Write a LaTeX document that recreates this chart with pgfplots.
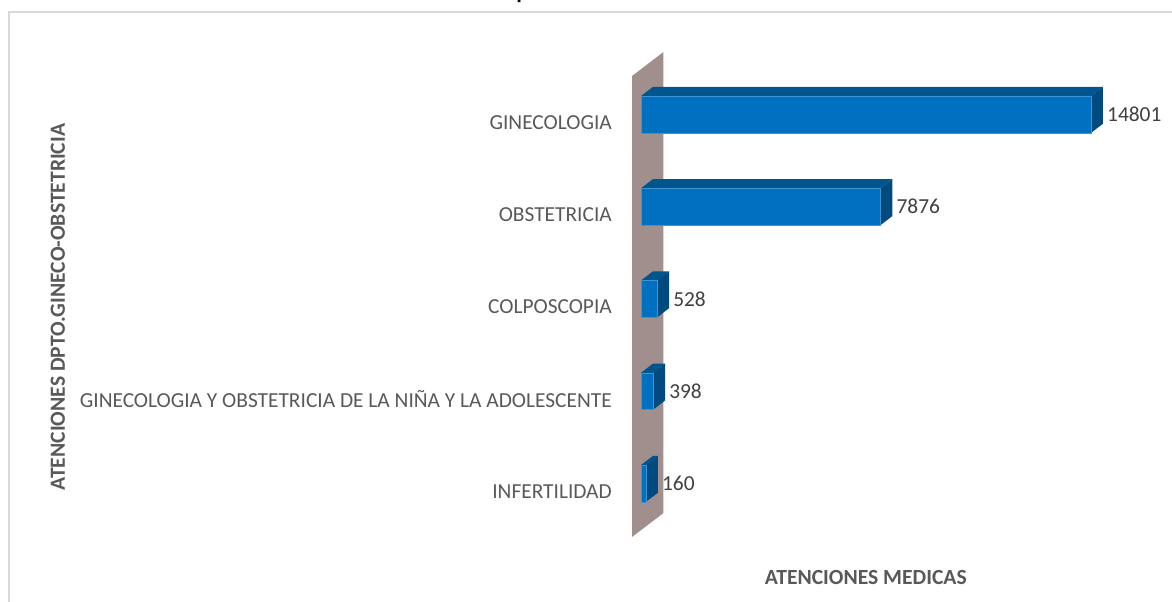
\documentclass[border=0pt]{standalone}
\usepackage{fontspec}
\setmainfont{Carlito}
\usepackage{pgfplots}
\usepackage{pgfplotstable}
\pgfplotsset{compat=1.18}

\definecolor{wall}{HTML}{A08F8C}
\definecolor{front}{HTML}{0070C0}
\definecolor{topface}{HTML}{00558F}
\definecolor{sideface}{HTML}{004A80}
\definecolor{edge}{HTML}{3F93D0}
\definecolor{frameg}{HTML}{D9D9D9}
\definecolor{txt}{HTML}{595959}
\definecolor{val}{HTML}{404040}

\pgfplotstableread{
pos value
0 160
1 398
2 528
3 7876
4 14801
}\atenciones

\begin{document}
\begin{tikzpicture}[x=1pt,y=1pt]
\useasboundingbox (0,0) rectangle (1172,602);
% chart frame, runs off the page on the right and at the bottom
\draw[frameg, line width=2pt] (9,-5) -- (9,589.5) -- (1180,589.5);
\begin{axis}[
  at={(632pt,0pt)}, anchor=south west,
  scale only axis, width=540pt, height=602pt,
  xmin=-296, xmax=17467,
  ymin=-1.2846, ymax=5.2412,
  clip=false,
  axis line style={draw=none},
  major tick length=0pt,
  xtick=\empty,
  ytick={0,1,2,3,4},
  yticklabels={INFERTILIDAD,GINECOLOGIA Y OBSTETRICIA DE LA NIÑA Y LA ADOLESCENTE,COLPOSCOPIA,OBSTETRICIA,GINECOLOGIA},
  yticklabel style={font=\fontsize{21.4}{25}\selectfont, text=txt, anchor=east, inner sep=0pt, xshift=-20pt, yshift=-8pt},
  xlabel={\textbf{ATENCIONES MEDICAS}},
  xlabel style={at={(axis description cs:0.433,0.0415)}, anchor=center, font=\fontsize{21.6}{25}\selectfont, text=txt},
  ylabel={\textbf{ATENCIONES DPTO.GINECO-OBSTETRICIA}},
  ylabel style={at={(axis description cs:-1.063,0.49)}, anchor=center, rotate=0, font=\fontsize{21.6}{25}\selectfont, text=txt},
]
% wall
\addplot[fill=wall, draw=none] coordinates {(-296,4.417) (740,4.678) (740,-0.320) (-296,-0.580)} -- cycle;

% top faces
\addplot[fill=topface, draw=none] coordinates {(0,4.2) (14801,4.2) (15196,4.3) (395,4.3)} -- cycle;
\addplot[fill=topface, draw=none] coordinates {(0,3.2) (7876,3.2) (8271,3.3) (395,3.3)} -- cycle;
\addplot[fill=topface, draw=none] coordinates {(0,2.2) (528,2.2) (923,2.3) (395,2.3)} -- cycle;
\addplot[fill=topface, draw=none] coordinates {(0,1.2) (398,1.2) (793,1.3) (395,1.3)} -- cycle;
\addplot[fill=topface, draw=none] coordinates {(0,0.2) (160,0.2) (555,0.3) (395,0.3)} -- cycle;

% side faces
\addplot[fill=sideface, draw=none] coordinates {(14801,4.2) (15196,4.3) (15196,3.9) (14801,3.8)} -- cycle;
\addplot[fill=sideface, draw=none] coordinates {(7876,3.2) (8271,3.3) (8271,2.9) (7876,2.8)} -- cycle;
\addplot[fill=sideface, draw=none] coordinates {(528,2.2) (923,2.3) (923,1.9) (528,1.8)} -- cycle;
\addplot[fill=sideface, draw=none] coordinates {(398,1.2) (793,1.3) (793,0.9) (398,0.8)} -- cycle;
\addplot[fill=sideface, draw=none] coordinates {(160,0.2) (555,0.3) (555,-0.1) (160,-0.2)} -- cycle;

% front faces and values
\addplot[xbar, bar width=36.9pt, fill=front, draw=edge, line width=0.4pt,
  point meta=x, nodes near coords,
  every node near coord/.append style={
    /pgf/number format/assume math mode=true,
    /pgf/number format/1000 sep={},
    font=\fontsize{21.4}{25}\selectfont, text=val,
    anchor=west, inner sep=0pt, xshift=16pt}]
  table[x=value, y=pos] {\atenciones};
\end{axis}
% cut-off title: only the descender of one letter is on the page
\node[anchor=base west, inner sep=0pt, text=black, font=\fontsize{32}{36}\selectfont] at (515.5,604) {p};
\end{tikzpicture}
\end{document}
